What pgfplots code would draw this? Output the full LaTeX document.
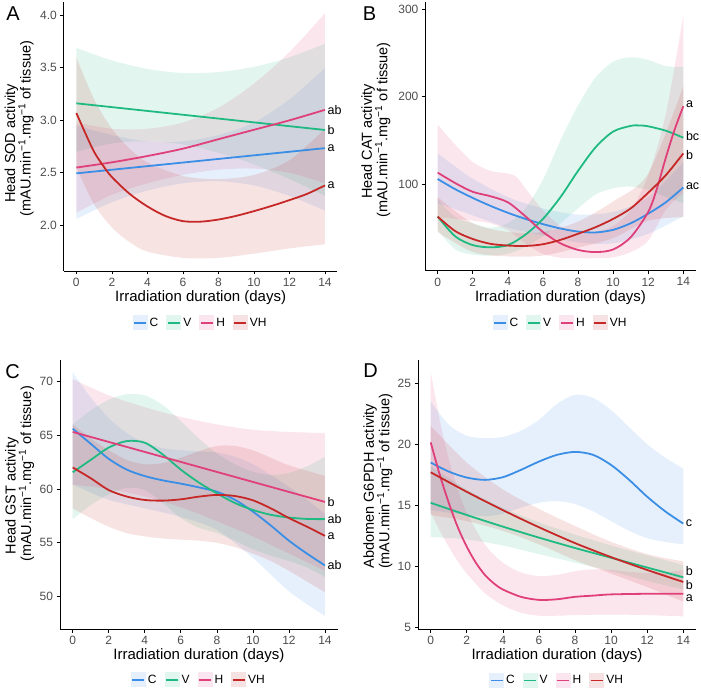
\documentclass[border=0pt]{standalone}
\usepackage{fontspec}
\setmainfont{Liberation Sans}
\usepackage{pgfplots}
\pgfplotsset{compat=1.18}
\usepgfplotslibrary{fillbetween}
\definecolor{cC}{HTML}{3A8EE6}
\definecolor{cV}{HTML}{1FBA82}
\definecolor{cH}{HTML}{E0407A}
\definecolor{cVH}{HTML}{C62828}
\definecolor{kC}{HTML}{E5F0FC}
\definecolor{kV}{HTML}{E1F6EE}
\definecolor{kH}{HTML}{FBE5EE}
\definecolor{kVH}{HTML}{F6E2E2}
\definecolor{tickgray}{HTML}{4D4D4D}
\newcommand\labf{\fontsize{12.5}{14}\selectfont}
\pgfplotsset{
 panel/.style={scale only axis, clip mode=individual,
  axis x line*=bottom, axis y line*=left,
  axis line style={black, line width=0.9pt, -},
  tick align=outside, major tick length=3.5pt,
  tick style={black, line width=0.7pt},
  xmin=-0.7, xmax=14.7, xtick={0,2,...,14},
  tick label style={font=\fontsize{12}{14}\selectfont, text=tickgray},
  /pgf/number format/assume math mode=true,
  every axis x label/.style={at={(axis description cs:0.5,0)}, anchor=center, yshift=-26.7pt, font=\fontsize{15}{17}\selectfont},
  every axis y label/.style={rotate=90, anchor=center, align=center, font=\fontsize{14.5}{15.5}\selectfont},
  xlabel={Irradiation duration (days)},
  legend columns=4,
  legend style={draw=none, fill=none, anchor=center, font=\fontsize{12}{14}\selectfont, /tikz/every even column/.append style={column sep=6pt}},
 },
 rib/.style={draw=none, fill=#1, fill opacity=0.13, forget plot},
 bnd/.style={draw=none, smooth, forget plot},
 ln/.style 2 args={#1, line width=1.8pt, smooth, legend image code/.code={\path[fill=#2, draw=none] (0pt,-7.5pt) rectangle (15pt,7.5pt); \path[draw=#1, fill=none, line width=1.8pt] (1.5pt,0pt) -- (13.5pt,0pt);}},
}
\begin{document}
\begin{tikzpicture}
% ---------------- A ----------------
\begin{axis}[panel, at={(63.9pt,418pt)}, anchor=south west, width=273.5pt, height=269pt,
 ymin=1.565, ymax=4.127, ytick={2,2.5,3,3.5,4},
 yticklabel style={/pgf/number format/.cd, fixed, fixed zerofill, precision=1},
 ylabel={Head SOD activity\hspace*{30pt}\\(mAU.min\textsuperscript{−1}.mg\textsuperscript{−1} of tissue)},
 ylabel style={at={(axis description cs:-0.164,0.53)}},
 legend style={at={(axis description cs:0.5,-0.193)}}]
\addplot[bnd, name path=ACu] coordinates {(0,2.95)(2,2.86)(4,2.80)(6,2.80)(8,2.86)(10,2.98)(12,3.20)(14,3.50)};
\addplot[bnd, name path=ACl] coordinates {(0,2.06)(2,2.22)(4,2.33)(6,2.40)(8,2.42)(10,2.38)(12,2.28)(14,2.14)};
\addplot[rib=cC] fill between[of=ACu and ACl];
\addplot[bnd, name path=AVu] coordinates {(0,3.69)(2,3.57)(4,3.49)(6,3.45)(8,3.46)(10,3.51)(12,3.60)(14,3.73)};
\addplot[bnd, name path=AVl] coordinates {(0,2.70)(2,2.78)(4,2.80)(6,2.77)(8,2.69)(10,2.58)(12,2.44)(14,2.28)};
\addplot[rib=cV] fill between[of=AVu and AVl];
\addplot[bnd, name path=AHu] coordinates {(0,2.98)(2,2.92)(4,2.92)(6,2.98)(8,3.12)(10,3.35)(12,3.65)(14,4.02)};
\addplot[bnd, name path=AHl] coordinates {(0,2.12)(2,2.29)(4,2.40)(6,2.48)(8,2.53)(10,2.54)(12,2.50)(14,2.40)};
\addplot[rib=cH] fill between[of=AHu and AHl];
\addplot[bnd, name path=AXu] coordinates {(0,3.60)(1,3.20)(2,2.92)(3,2.73)(4,2.60)(6,2.47)(8,2.44)(10,2.48)(12,2.62)(14,2.92)};
\addplot[bnd, name path=AXl] coordinates {(0,2.55)(1,2.20)(2,1.98)(3,1.84)(4,1.75)(6,1.69)(8,1.69)(10,1.73)(12,1.78)(14,1.82)};
\addplot[rib=cVH] fill between[of=AXu and AXl];
\addplot[ln={cC}{kC}] coordinates {(0,2.495)(7,2.615)(14,2.735)};
\addplot[ln={cV}{kV}] coordinates {(0,3.162)(7,3.035)(14,2.908)};
\addplot[ln={cH}{kH}] coordinates {(0,2.55)(2,2.60)(4,2.66)(6,2.73)(8,2.82)(10,2.91)(12,3.00)(14,3.10)};
\addplot[ln={cVH}{kVH}] coordinates {(0,3.07)(0.5,2.88)(1,2.70)(1.5,2.57)(2,2.46)(3,2.30)(4,2.18)(5,2.09)(6,2.04)(7,2.035)(8,2.055)(9,2.09)(10,2.135)(11,2.185)(12,2.24)(13,2.30)(14,2.38)};
\legend{C,V,H,VH}
\node[anchor=west, font=\labf, inner sep=0pt, xshift=2.5pt] at (axis cs:14,3.10) {ab};
\node[anchor=west, font=\labf, inner sep=0pt, xshift=2.5pt] at (axis cs:14,2.908) {b};
\node[anchor=west, font=\labf, inner sep=0pt, xshift=2.5pt] at (axis cs:14,2.735) {a};
\node[anchor=west, font=\labf, inner sep=0pt, xshift=2.5pt] at (axis cs:14,2.38) {a};
\end{axis}
% ---------------- B ----------------
\begin{axis}[panel, at={(425.4pt,418.3pt)}, anchor=south west, width=270.2pt, height=269pt,
 ymin=0.7, ymax=308.7, ytick={100,200,300},
 ylabel={Head CAT activity\hspace*{23pt}\\(mAU.min\textsuperscript{−1}.mg\textsuperscript{−1} of tissue)},
 ylabel style={at={(axis description cs:-0.183,0.523)}},
 legend style={at={(axis description cs:0.5,-0.194)}}]
\addplot[bnd, name path=BCu] coordinates {(0,135)(1,120)(2,106)(4,85)(6,72)(8,65)(10,68)(12,85)(14,125)};
\addplot[bnd, name path=BCl] coordinates {(0,78)(2,64)(4,50)(6,41)(8,33)(10,32)(12,43)(14,63)};
\addplot[rib=cC] fill between[of=BCu and BCl];
\addplot[bnd, name path=BVu] coordinates {(0,82)(1,62)(2,55)(3,50)(4,55)(5,72)(6,105)(7,150)(8,190)(9,222)(10,240)(11,245)(12,242)(13,235)(14,234)};
\addplot[bnd, name path=BVl] coordinates {(0,47)(1,25)(2,19)(3,18)(4,20)(5,28)(6,40)(7,55)(8,72)(9,88)(10,95)(11,97)(12,93)(13,85)(14,78)};
\addplot[rib=cV] fill between[of=BVu and BVl];
\addplot[bnd, name path=BHu] coordinates {(0,168)(1,145)(2,125)(3,115)(4,112)(4.5,108)(5,95)(6,70)(7,52)(8,44)(9,45)(10,52)(11,70)(12,110)(13,180)(14,293)};
\addplot[bnd, name path=BHl] coordinates {(0,62)(1,60)(2,58)(3,55)(4,47)(5,32)(6,20)(7,15.5)(8,15)(9,15)(10,16)(11,22)(12,35)(13,70)(14,90)};
\addplot[rib=cH] fill between[of=BHu and BHl];
\addplot[bnd, name path=BXu] coordinates {(0,85)(2,55)(4,45)(6,45)(8,57)(10,80)(12,112)(14,212)};
\addplot[bnd, name path=BXl] coordinates {(0,45)(2,22)(4,17)(6,18)(8,27)(10,38)(12,58)(14,62)};
\addplot[rib=cVH] fill between[of=BXu and BXl];
\addplot[ln={cC}{kC}] coordinates {(0,105.7)(1,94)(2,84)(3,75)(4,67)(5,60)(6,54)(7,49)(8,45.5)(9,44.5)(10,47.5)(11,55)(12,66)(13,79)(14,96)};
\addplot[ln={cV}{kV}] coordinates {(0,62.6)(1,40)(2,30)(3,27.5)(4,30)(5,42)(6,60)(7,85)(8,115)(9,142)(10,160)(11,166.5)(11.5,167)(12,166)(13,161)(14,153)};
\addplot[ln={cH}{kH}] coordinates {(0,113)(1,101)(2,91)(3,86)(4,79)(5,63)(6,45)(7,32)(8,24.5)(9,22)(10,25)(11,39)(12,68)(12.5,95)(13,130)(13.5,162)(14,189)};
\addplot[ln={cVH}{kVH}] coordinates {(0,62.6)(1,46)(2,37)(3,31.5)(4,29.5)(5,29)(6,31)(7,36)(8,43)(9,50.5)(10,60)(11,72)(12,90)(13,110)(14,135)};
\legend{C,V,H,VH}
\node[anchor=west, font=\labf, inner sep=0pt, xshift=2.5pt] at (axis cs:14,191) {a};
\node[anchor=west, font=\labf, inner sep=0pt, xshift=2.5pt] at (axis cs:14,155) {bc};
\node[anchor=west, font=\labf, inner sep=0pt, xshift=2.5pt] at (axis cs:14,133) {b};
\node[anchor=west, font=\labf, inner sep=0pt, xshift=2.5pt] at (axis cs:14,98) {ac};
\end{axis}
% ---------------- C ----------------
\begin{axis}[panel, at={(60.1pt,59.7pt)}, anchor=south west, width=277.5pt, height=269.3pt,
 ymin=46.97, ymax=71.98, ytick={50,55,60,65,70},
 ylabel={Head GST activity\hspace*{44pt}\\(mAU.min\textsuperscript{−1}.mg\textsuperscript{−1} of tissue)},
 ylabel style={at={(axis description cs:-0.146,0.577)}},
 legend style={at={(axis description cs:0.5,-0.188)}}]
\addplot[bnd, name path=CCu] coordinates {(0,70.8)(1,68.5)(2,66.6)(3,65.2)(4,64.3)(5,63.8)(6,63.6)(7,63.5)(8,63.4)(9,63.0)(10,62.3)(11,61.3)(12,60.2)(13,59.0)(14,57.7)};
\addplot[bnd, name path=CCl] coordinates {(0,60.4)(2,59.0)(4,58.2)(6,57.4)(8,56.2)(10,53.6)(12,50.5)(14,48.2)};
\addplot[rib=cC] fill between[of=CCu and CCl];
\addplot[bnd, name path=CVu] coordinates {(0,66.0)(1,67.3)(2,68.3)(3,68.8)(4,68.7)(5,67.8)(6,66.3)(7,64.7)(8,63.3)(9,62.3)(10,61.6)(11,61.3)(12,61.5)(13,62.1)(14,63.0)};
\addplot[bnd, name path=CVl] coordinates {(0,57.2)(1,58.5)(2,59.5)(3,60.1)(4,59.9)(5,58.7)(6,57.3)(7,56.4)(8,55.9)(9,55.2)(10,54.4)(11,53.8)(12,53.3)(13,52.7)(14,51.8)};
\addplot[rib=cV] fill between[of=CVu and CVl];
\addplot[bnd, name path=CHu] coordinates {(0,70.2)(2,68.7)(4,67.6)(6,66.7)(8,66.0)(10,65.5)(12,65.3)(14,65.2)};
\addplot[bnd, name path=CHl] coordinates {(0,60.4)(2,60.0)(4,59.3)(6,58.3)(8,57.0)(10,55.6)(12,54.0)(14,52.4)};
\addplot[rib=cH] fill between[of=CHu and CHl];
\addplot[bnd, name path=CXu] coordinates {(0,66.0)(1,64.7)(2,63.6)(3,62.7)(4,62.3)(5,62.4)(6,62.9)(7,63.5)(8,64.0)(9,64.0)(10,63.6)(11,62.9)(12,62.2)(13,61.7)(14,61.2)};
\addplot[bnd, name path=CXl] coordinates {(0,58.2)(1,57.3)(2,56.5)(3,55.9)(4,55.6)(5,55.4)(6,55.3)(7,55.2)(8,55.0)(9,54.6)(10,54.0)(11,53.3)(12,52.4)(13,51.4)(14,50.4)};
\addplot[rib=cVH] fill between[of=CXu and CXl];
\addplot[ln={cC}{kC}] coordinates {(0,65.6)(1,64.2)(2,62.8)(3,61.8)(4,61.2)(5,60.8)(6,60.5)(7,60.15)(8,59.75)(9,59.0)(10,57.9)(11,56.6)(12,55.2)(13,54.0)(14,52.9)};
\addplot[ln={cV}{kV}] coordinates {(0,61.55)(1,62.7)(2,63.85)(3,64.45)(4,64.3)(5,63.2)(6,61.8)(7,60.6)(8,59.6)(9,58.7)(10,58.05)(11,57.6)(12,57.35)(13,57.22)(14,57.2)};
\addplot[ln={cH}{kH}] coordinates {(0,65.3)(7,62.05)(14,58.8)};
\addplot[ln={cVH}{kVH}] coordinates {(0,62.0)(1,61.0)(2,59.9)(3,59.3)(4,58.98)(5,58.92)(6,59.04)(7,59.29)(8,59.45)(9,59.35)(10,58.95)(11,58.2)(12,57.3)(13,56.5)(14,55.65)};
\legend{C,V,H,VH}
\node[anchor=west, font=\labf, inner sep=0pt, xshift=2.5pt] at (axis cs:14,58.8) {b};
\node[anchor=west, font=\labf, inner sep=0pt, xshift=2.5pt] at (axis cs:14,57.2) {ab};
\node[anchor=west, font=\labf, inner sep=0pt, xshift=2.5pt] at (axis cs:14,55.65) {a};
\node[anchor=west, font=\labf, inner sep=0pt, xshift=2.5pt] at (axis cs:14,52.9) {ab};
\end{axis}
% ---------------- D ----------------
\begin{axis}[panel, at={(418.1pt,59.7pt)}, anchor=south west, width=277.8pt, height=269.3pt,
 ymin=4.84, ymax=26.9, ytick={5,10,15,20,25},
 ylabel={Abdomen G6PDH activity\hspace*{10pt}\\(mAU.min\textsuperscript{−1}.mg\textsuperscript{−1} of tissue)},
 ylabel style={at={(axis description cs:-0.145,0.55)}},
 legend style={at={(axis description cs:0.5,-0.19)}}]
\addplot[bnd, name path=DCu] coordinates {(0,23.5)(1,21.6)(2,20.7)(3,20.5)(4,20.6)(5,21.1)(6,22.0)(7,23.3)(8,24.05)(9,23.8)(10,22.8)(11,21.4)(12,20.0)(13,18.9)(14,18.0)};
\addplot[bnd, name path=DCl] coordinates {(0,14.6)(1,14.4)(2,14.2)(3,14.1)(4,14.3)(5,14.8)(6,15.2)(7,15.35)(8,15.1)(9,14.5)(10,13.7)(11,12.9)(12,12.3)(13,12.0)(14,11.8)};
\addplot[rib=cC] fill between[of=DCu and DCl];
\addplot[bnd, name path=DVu] coordinates {(0,18.2)(2,16.3)(4,14.8)(6,13.6)(8,12.6)(10,11.7)(12,10.9)(14,10.1)};
\addplot[bnd, name path=DVl] coordinates {(0,12.4)(2,12.2)(4,11.7)(6,11.0)(8,10.3)(10,9.6)(12,8.8)(14,8.1)};
\addplot[rib=cV] fill between[of=DVu and DVl];
\addplot[bnd, name path=DHu] coordinates {(0,25.9)(0.5,22.0)(1,18.8)(1.5,16.3)(2,14.4)(3,11.8)(4,10.3)(5,9.5)(6,9.2)(7,9.3)(8,9.6)(9,9.75)(10,9.7)(11,9.55)(12,9.45)(13,9.5)(14,9.7)};
\addplot[bnd, name path=DHl] coordinates {(0,14.4)(0.5,12.9)(1,11.6)(1.5,10.4)(2,9.4)(3,7.8)(4,6.8)(5,6.2)(6,5.95)(7,5.95)(8,6.0)(10,6.05)(12,6.0)(14,5.9)};
\addplot[rib=cH] fill between[of=DHu and DHl];
\addplot[bnd, name path=DXu] coordinates {(0,21.5)(2,18.5)(4,16.3)(6,14.7)(8,13.3)(10,12.0)(12,11.0)(14,10.4)};
\addplot[bnd, name path=DXl] coordinates {(0,14.2)(2,13.7)(4,12.9)(6,11.8)(8,10.5)(10,9.4)(12,8.3)(14,7.1)};
\addplot[rib=cVH] fill between[of=DXu and DXl];
\addplot[ln={cC}{kC}] coordinates {(0,18.5)(1,17.76)(2,17.27)(3,17.08)(4,17.3)(5,17.9)(6,18.58)(7,19.13)(8,19.37)(9,19.13)(10,18.3)(11,17.08)(12,15.7)(13,14.5)(14,13.5)};
\addplot[ln={cV}{kV}] coordinates {(0,15.2)(2,14.2)(4,13.25)(6,12.35)(8,11.5)(10,10.7)(12,9.9)(14,9.1)};
\addplot[ln={cH}{kH}] coordinates {(0,20.15)(0.5,17.5)(1,15.2)(1.5,13.2)(2,11.6)(2.5,10.3)(3,9.3)(3.5,8.6)(4,8.1)(5,7.5)(6,7.25)(7,7.3)(8,7.5)(9,7.6)(10,7.7)(12,7.75)(14,7.75)};
\addplot[ln={cVH}{kVH}] coordinates {(0,17.7)(2,16.1)(4,14.6)(6,13.2)(8,11.9)(10,10.75)(12,9.7)(14,8.72)};
\legend{C,V,H,VH}
\node[anchor=west, font=\labf, inner sep=0pt, xshift=2.5pt] at (axis cs:14,13.5) {c};
\node[anchor=west, font=\labf, inner sep=0pt, xshift=2.5pt] at (axis cs:14,9.6) {b};
\node[anchor=west, font=\labf, inner sep=0pt, xshift=2.5pt] at (axis cs:14,8.45) {b};
\node[anchor=west, font=\labf, inner sep=0pt, xshift=2.5pt] at (axis cs:14,7.4) {a};
\end{axis}
\node[font=\fontsize{20}{20}\selectfont] at (13pt,675pt) {A};
\node[font=\fontsize{20}{20}\selectfont] at (369.5pt,675pt) {B};
\node[font=\fontsize{20}{20}\selectfont] at (12.5pt,317pt) {C};
\node[font=\fontsize{20}{20}\selectfont] at (370.5pt,318pt) {D};
\pgfresetboundingbox
\path[use as bounding box] (0,0) rectangle (701pt,689pt);
\end{tikzpicture}
\end{document}
